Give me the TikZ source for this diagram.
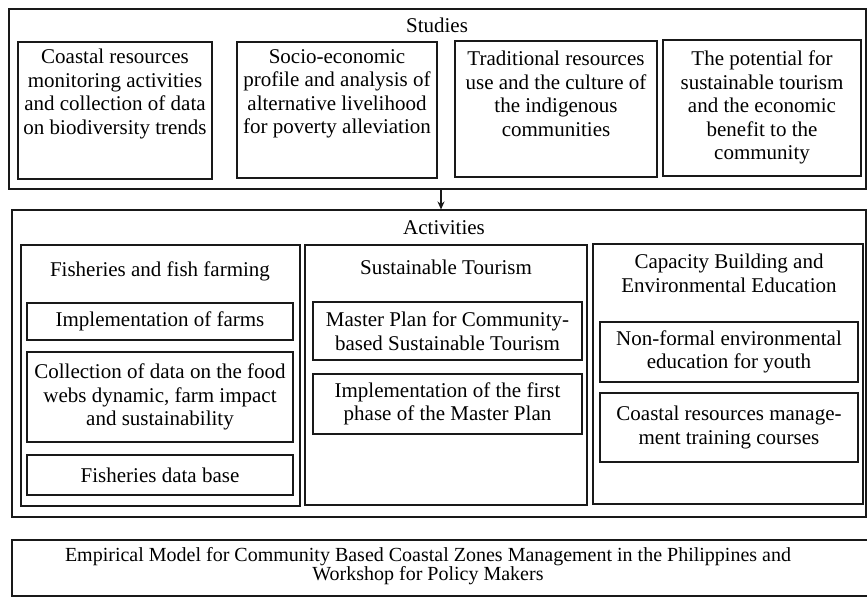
\documentclass[tikz,border=0pt]{standalone}
\usepackage{fontspec}
\setmainfont{Liberation Serif}
\usetikzlibrary{fit,arrows.meta}
\begin{document}
\begin{tikzpicture}[x=1pt,y=-1pt,
  box/.style={draw=black!90, line width=1.1pt, inner sep=0pt},
  txt/.style={align=center, inner sep=0pt, font=\fontsize{21}{23.5}\selectfont},
  subbox/.style={box, align=center, font=\fontsize{21}{23.5}\selectfont},
  flow/.style={draw=black!90, line width=1.1pt, -{Stealth[length=8pt,width=7pt]}},
]
\useasboundingbox (0,0) rectangle (867,600);
\fill[white] (0,0) rectangle (867,600);

% ---------- Studies ----------
\node[box, fit={(9,9) (866,189)}] (studies) {};
\node[txt, anchor=base] (studiesT) at (437,32) {Studies};

\node[box, fit={(18,42) (212,179)}] (s1) {};
\node[box, fit={(237,42) (437,178)}] (s2) {};
\node[box, fit={(455,41) (657,177)}] (s3) {};
\node[box, fit={(663,40) (861,176)}] (s4) {};

\node[txt, anchor=north] (s1t) at (115,49) {Coastal resources\\monitoring activities\\and collection of data\\on biodiversity trends};
\node[txt, anchor=north] (s2t) at (337,49) {Socio-economic\\profile and analysis of\\alternative livelihood\\for poverty alleviation};
\node[txt, anchor=north] (s3t) at (556,51) {Traditional resources\\use and the culture of\\the indigenous\\communities};
\node[txt, anchor=north] (s4t) at (762,51) {The potential for\\sustainable tourism\\and the economic\\benefit to the\\community};

% ---------- Activities ----------
\node[box, fit={(12,210) (866,517)}] (act) {};
\node[txt, anchor=base] (actT) at (444,234) {Activities};

\coordinate (ax) at (441,0);
\draw[flow] (studies.south -| ax) -- (act.north -| ax);

% columns
\node[box, fit={(21,245) (300,506)}] (c1) {};
\node[box, fit={(305,245) (587,505)}] (c2) {};
\node[box, fit={(593,244) (863,504)}] (c3) {};

\node[txt, anchor=base] (c1t) at (160,276) {Fisheries and fish farming};
\node[txt, anchor=base] (c2t) at (446,274) {Sustainable Tourism};
\node[txt, anchor=north] (c3t) at (729,254) {Capacity Building and\\Environmental Education};

% fisheries column
\node[subbox, minimum width=266pt, minimum height=37pt] (f1) at (160,321.5) {Implementation of farms};
\node[subbox, minimum width=266pt, minimum height=90pt] (f2) at (160,397) {Collection of data on the food\\webs dynamic, farm impact\\and sustainability};
\node[subbox, minimum width=266pt, minimum height=40pt] (f3) at (160,475) {Fisheries data base};

% tourism column
\node[subbox, minimum width=269pt, minimum height=58pt] (t1) at (447.5,331) {Master Plan for Community-\\based Sustainable Tourism};
\node[subbox, minimum width=269pt, minimum height=60pt] (t2) at (447.5,404) {Implementation of the first\\phase of the Master Plan};

% capacity building column
\node[subbox, minimum width=258pt, minimum height=60pt] (e1) at (729,352) {Non-formal environmental\\education for youth};
\node[subbox, minimum width=258pt, minimum height=69pt] (e2) at (729,427.5) {Coastal resources manage-\\ment training courses};

% ---------- Outcome ----------
\node[box, fit={(12,540) (880,596)}] (model) {};
\node[txt, anchor=north, font=\fontsize{20}{19}\selectfont] (modelT) at (428,547) {Empirical Model for Community Based Coastal Zones Management in the Philippines and\\Workshop for Policy Makers};
\end{tikzpicture}
\end{document}
